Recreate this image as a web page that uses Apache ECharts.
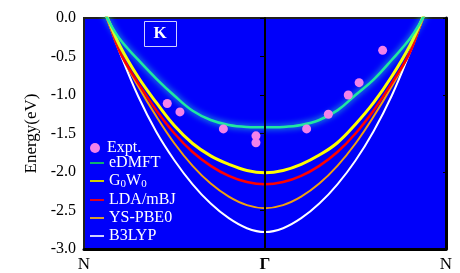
<!DOCTYPE html>
<html>
<head>
<meta charset="utf-8">
<script src="https://cdn.jsdelivr.net/npm/echarts@6/dist/echarts.min.js"></script>
<style>html,body{margin:0;padding:0;background:#fff}#c{width:460px;height:273px}</style>
</head>
<body>
<div id="c"></div>
<script>
// k-path positions (N = -1, Γ = 0, N = 1)
var kPoints = [-0.92,-0.87,-0.8,-0.7,-0.6,-0.5,-0.4,-0.3,-0.2,-0.1,0,0.1,0.2,0.3,0.4,0.5,0.6,0.7,0.8,0.87,0.92];
var eDMFT  = [0.22,-0.01,-0.28,-0.545,-0.79,-1.01,-1.205,-1.325,-1.39,-1.415,-1.42,-1.415,-1.39,-1.325,-1.2,-1.0,-0.8,-0.545,-0.27,-0.01,0.2];
var G0W0   = [0.30,0.0,-0.37,-0.77,-1.10,-1.40,-1.63,-1.79,-1.90,-1.98,-2.01,-1.98,-1.90,-1.78,-1.62,-1.38,-1.10,-0.76,-0.36,0.0,0.30];
var LDAmBJ = [0.26,-0.02,-0.45,-0.85,-1.20,-1.50,-1.74,-1.92,-2.05,-2.13,-2.16,-2.13,-2.05,-1.92,-1.74,-1.50,-1.20,-0.85,-0.45,-0.02,0.26];
var YSPBE0 = [0.27,-0.02,-0.45,-0.89,-1.28,-1.63,-1.92,-2.15,-2.32,-2.43,-2.47,-2.43,-2.32,-2.15,-1.92,-1.63,-1.28,-0.89,-0.45,-0.02,0.27];
var B3LYP  = [0.30,-0.02,-0.46,-1.02,-1.48,-1.85,-2.16,-2.41,-2.60,-2.73,-2.78,-2.73,-2.60,-2.41,-2.16,-1.85,-1.47,-1.01,-0.45,-0.02,0.30];
var exptK = [-0.54,-0.47,-0.23,-0.05,-0.05,0.23,0.35,0.46,0.52,0.65];
var exptE = [-1.11,-1.22,-1.44,-1.53,-1.62,-1.44,-1.25,-1.00,-0.84,-0.42];
var xTickValues = [-1,0,1];
var xTickLabels = ['N','Γ','N'];
var yTicks = ['0.0','-0.5','-1.0','-1.5','-2.0','-2.5','-3.0'];
var lineNames = ['eDMFT','G0W0','LDA/mBJ','YS-PBE0','B3LYP'];

function pairs(ks, es){ return ks.map(function(k,i){ return [k, es[i]]; }); }

var serif = 'Liberation Serif';
var chart = echarts.init(document.getElementById('c'), null, {renderer:'canvas'});
function lineSeries(name, data, color, width, extra){
  return {
    name: name, type: 'line', data: pairs(kPoints, data), smooth: 0.4,
    symbol: 'none', showSymbol: false, clip: true,
    lineStyle: Object.assign({color: color, width: width}, extra || {}),
    itemStyle: {color: color}, z: 3
  };
}
var legendColors = ['#10b070','#d0d000','#e00020','#d89a30','#d0d0ff'];
var legendText = {color: '#fff', fontFamily: serif, fontSize: 16,
  rich: {m: {color: '#fff', fontFamily: serif, fontSize: 16},
         s: {color: '#fff', fontFamily: serif, fontSize: 11, padding: [7,0,0,0]}}};
var option = {
  animation: false,
  grid: {left: 84, right: 14, top: 18, bottom: 22, show: true, backgroundColor: '#0000fa', borderColor: '#202020', borderWidth: 2},
  xAxis: {
    type: 'value', min: -1, max: 1, interval: 1,
    axisLine: {show: true, onZero: false, lineStyle: {color: '#000', width: 3}},
    axisTick: {show: false},
    splitLine: {show: false},
    axisLabel: {
      margin: 7, color: '#000', fontFamily: serif, fontSize: 17,
      formatter: function(v){ var i = xTickValues.indexOf(Math.round(v)); return i===1 ? '{g|' + xTickLabels[i] + '}' : xTickLabels[i]; },
      rich: {g: {fontWeight: 'bold', fontFamily: serif, fontSize: 17, color: '#000'}}
    }
  },
  yAxis: [{
    type: 'value', min: -3, max: 0, interval: 0.5,
    name: 'Energy(eV)', nameLocation: 'middle', nameGap: 41,
    nameTextStyle: {color: '#000', fontFamily: serif, fontSize: 17},
    axisLine: {show: true, lineStyle: {color: '#000', width: 2}},
    axisTick: {show: true, inside: false, length: 5, lineStyle: {color: '#000', width: 1}},
    splitLine: {show: false},
    axisLabel: {margin: 8, color: '#000', fontFamily: serif, fontSize: 16,
      formatter: function(v){ return yTicks[Math.round(-v*2)]; }}
  },{
    type: 'value', min: -3, max: 0, interval: 1, position: 'right',
    axisLine: {show: true, lineStyle: {color: '#000', width: 3}},
    axisTick: {show: true, inside: true, length: 3, lineStyle: {color: '#000'}},
    axisLabel: {show: false}, splitLine: {show: false}
  }],
  legend: [{
    orient: 'vertical', left: 85, top: 135, itemWidth: 14, itemHeight: 10,
    data: [{name: 'Expt.', icon: 'circle'}],
    textStyle: legendText
  },{
    orient: 'vertical', left: 85, top: 150, itemWidth: 14, itemHeight: 2, itemGap: 2,
    data: lineNames.map(function(n, i){ return {name: n, icon: 'rect', itemStyle: {color: legendColors[i]}}; }),
    textStyle: legendText,
    formatter: function(n){ return n === 'G0W0' ? '{m|G}{s|0}{m|W}{s|0}' : n; }
  }],
  graphic: [
    {type: 'rect', shape: {x: 144.5, y: 21.5, width: 32, height: 25}, style: {fill: 'none', stroke: '#d0d0ff', lineWidth: 1}, z: 10},
    {type: 'text', x: 160, y: 34, style: {text: 'K', fill: '#fff', font: 'bold 17px "Liberation Serif"', textAlign: 'center', textVerticalAlign: 'middle'}, z: 10}
  ],
  series: [
    lineSeries('B3LYP', B3LYP, '#ffffff', 2),
    lineSeries('YS-PBE0', YSPBE0, '#f0a010', 2),
    lineSeries('LDA/mBJ', LDAmBJ, '#ff0000', 2.5),
    lineSeries('G0W0', G0W0, '#ffff00', 3),
    Object.assign(lineSeries('eDMFT', eDMFT, '#20e8a0', 2.5, {shadowBlur: 6, shadowColor: '#30ffc0'}), {
      markLine: {silent: true, symbol: 'none', label: {show: false},
        lineStyle: {color: '#000', width: 2, type: 'solid', shadowBlur: 0},
        data: [{xAxis: 0}]}
    }),
    {name: 'Expt.', type: 'scatter', data: pairs(exptK, exptE), symbolSize: 9,
     itemStyle: {color: '#f282ea', opacity: 1}, z: 5}
  ]
};
chart.setOption(option);
</script>
</body>
</html>
